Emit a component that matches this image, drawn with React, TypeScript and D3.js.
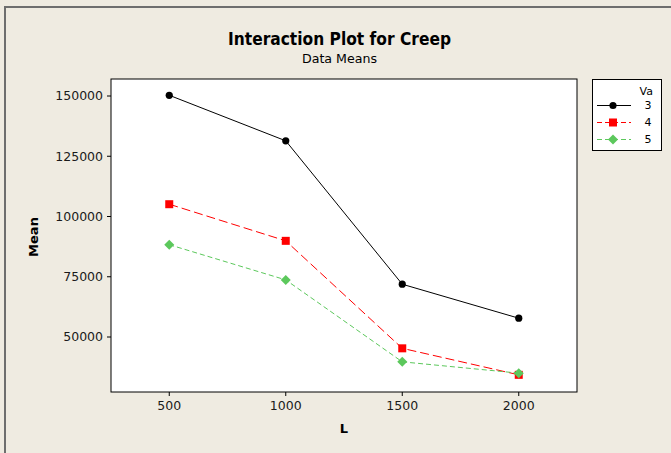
import React from "react";
import * as d3 from "d3";

const levelsL = [500, 1000, 1500, 2000];
const seriesNames = ["3", "4", "5"];
const va3 = [150300, 131400, 71900, 57800];
const va4 = [105100, 89900, 45300, 34300];
const va5 = [88300, 73700, 39700, 35000];
const yTicks = [50000, 75000, 100000, 125000, 150000];
const xTicks = [500, 1000, 1500, 2000];

const W = 671, H = 453;
const PL = 111, PR = 577, PT = 79, PB = 392;
const FONT = "'DejaVu Sans', Verdana, sans-serif";

export default function App() {
  const x = d3.scaleLinear().domain([250, 2250]).range([PL, PR]);
  const y = d3.scaleLinear().domain([150000, 50000]).range([96, 337]);
  const line = d3.line<number>().x((_, i) => x(levelsL[i])).y((d) => y(d));

  const series = [
    { name: seriesNames[0], values: va3, color: "#000000", dash: "none", marker: "circle" },
    { name: seriesNames[1], values: va4, color: "#FF0000", dash: "9,4", marker: "square" },
    { name: seriesNames[2], values: va5, color: "#5CC85C", dash: "5,3", marker: "diamond" },
  ];

  const marker = (m: string, cx: number, cy: number, color: string, key: string) => {
    if (m === "circle") return <circle key={key} cx={cx} cy={cy} r={3.6} fill={color} />;
    if (m === "square") return <rect key={key} x={cx - 4} y={cy - 4} width={8} height={8} fill={color} />;
    return <path key={key} d={`M${cx},${cy - 5}L${cx + 5},${cy}L${cx},${cy + 5}L${cx - 5},${cy}Z`} fill={color} />;
  };

  return (
    <svg width={W} height={H} style={{ position: "absolute", left: 0, top: 0 }}>
      <rect x={0} y={0} width={W} height={H} fill="#EFEBE1" />
      <line x1={4} y1={7} x2={W} y2={7} stroke="#6E6E6E" strokeWidth={2} />
      <line x1={5} y1={7} x2={5} y2={H} stroke="#6E6E6E" strokeWidth={2} />

      <text x={339.5} y={45} textAnchor="middle" fontFamily={FONT} fontWeight="bold" fontSize={17} textLength={223} lengthAdjust="spacingAndGlyphs" fill="#000">Interaction Plot for Creep</text>
      <text x={339.5} y={62.5} textAnchor="middle" fontFamily={FONT} fontSize={12.5} textLength={75} lengthAdjust="spacingAndGlyphs" fill="#000">Data Means</text>

      <rect x={PL} y={PT} width={PR - PL} height={PB - PT} fill="#FFFFFF" stroke="#000" strokeWidth={1} />

      {yTicks.map((t) => (
        <g key={"y" + t}>
          <line x1={PL - 4} x2={PL} y1={y(t)} y2={y(t)} stroke="#000" />
          <text x={PL - 8} y={y(t)} dy="0.35em" textAnchor="end" fontFamily={FONT} fontSize={12.5} fill="#1a1a1a">{t}</text>
        </g>
      ))}
      {xTicks.map((t) => (
        <g key={"x" + t}>
          <line x1={x(t)} x2={x(t)} y1={PB} y2={PB + 4} stroke="#000" />
          <text x={x(t)} y={PB + 18} textAnchor="middle" fontFamily={FONT} fontSize={12.5} fill="#1a1a1a">{t}</text>
        </g>
      ))}
      <text x={344} y={433} textAnchor="middle" fontFamily={FONT} fontWeight="bold" fontSize={13} fill="#000">L</text>
      <text transform="translate(38,237) rotate(-90)" textAnchor="middle" fontFamily={FONT} fontWeight="bold" fontSize={13} fill="#000">Mean</text>

      {series.map((s) => (
        <g key={s.name}>
          <path d={line(s.values) || ""} fill="none" stroke={s.color} strokeWidth={1} strokeDasharray={s.dash} />
          {s.values.map((v, i) => marker(s.marker, x(levelsL[i]), y(v), s.color, s.name + i))}
        </g>
      ))}

      <rect x={592.5} y={79.5} width={69} height={71} fill="#FFFFFF" stroke="#000" strokeWidth={1} />
      <text x={653} y={95} textAnchor="end" fontFamily={FONT} fontSize={11} fill="#000">Va</text>
      {series.map((s, i) => {
        const ly = 105.5 + i * 17;
        return (
          <g key={"lg" + s.name}>
            <line x1={597} x2={631} y1={ly} y2={ly} stroke={s.color} strokeDasharray={s.dash === "none" ? "none" : "5,3"} />
            {marker(s.marker, 613, ly, s.color, "lm" + i)}
            <text x={648} y={ly} dy="0.35em" textAnchor="middle" fontFamily={FONT} fontSize={11} fill="#000">{s.name}</text>
          </g>
        );
      })}
    </svg>
  );
}
